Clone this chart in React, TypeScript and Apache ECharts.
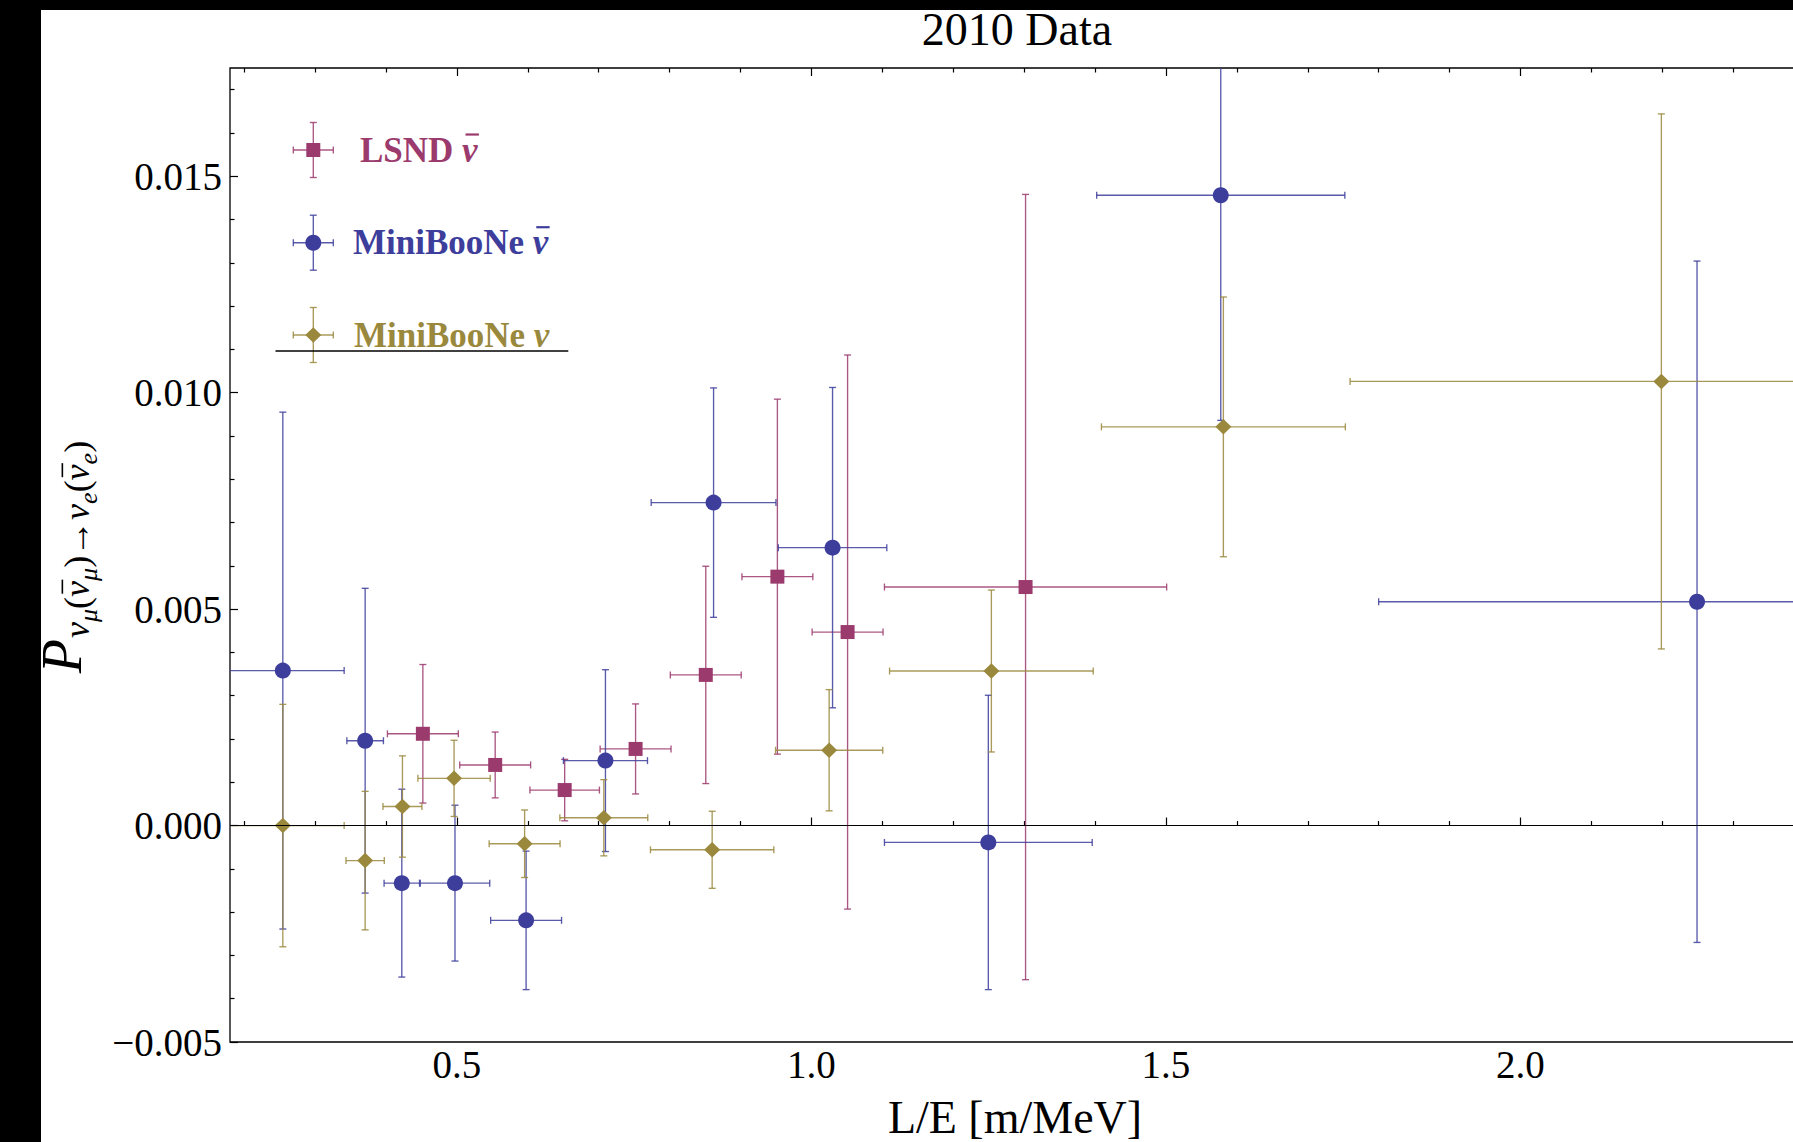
import React, { useEffect, useRef } from "react";
import * as echarts from "echarts";

const FAMILY = '"Liberation Serif"';
const FONT = '"Liberation Serif", "Times New Roman", "DejaVu Serif", serif';

// ---- LSND anti-neutrino ----
const lsndX = [0.452, 0.554, 0.652, 0.752, 0.851, 0.952, 1.051, 1.302];
const lsndY = [0.00212, 0.0014, 0.00082, 0.00177, 0.00348, 0.00575, 0.00447, 0.00551];
const lsndXErr = [0.05, 0.05, 0.049, 0.05, 0.05, 0.05, 0.05, 0.199];
const lsndYErr = [0.0016, 0.00076, 0.00071, 0.00104, 0.00251, 0.0041, 0.0064, 0.00907];

// ---- MiniBooNE anti-neutrino ----
const mbbX = [0.2545, 0.3706, 0.4223, 0.4973, 0.5976, 0.7095, 0.862, 1.0298, 1.2495, 1.5773, 2.249];
const mbbY = [0.00358, 0.00196, -0.00133, -0.00133, -0.00219, 0.0015, 0.00746, 0.00642, -0.00039, 0.01456, 0.00517];
const mbbXErr = [0.0865, 0.0258, 0.025, 0.049, 0.05, 0.0593, 0.088, 0.0765, 0.1465, 0.175, 0.449];
const mbbYErr = [0.00597, 0.00352, 0.00217, 0.0018, 0.0016, 0.0021, 0.00265, 0.0037, 0.0034, 0.0052, 0.00787];

// ---- MiniBooNE neutrino ----
const mbnX = [0.2545, 0.3706, 0.4232, 0.496, 0.5955, 0.7072, 0.86, 1.025, 1.2538, 1.581, 2.1987];
const mbnY = [0.0, -0.00081, 0.00044, 0.00109, -0.00042, 0.00018, -0.00056, 0.00174, 0.00357, 0.00921, 0.01026];
const mbnXErr = [0.0865, 0.027, 0.0275, 0.051, 0.05, 0.062, 0.087, 0.0756, 0.1436, 0.172, 0.439];
const mbnYErr = [0.0028, 0.0016, 0.00117, 0.00088, 0.00078, 0.00088, 0.00089, 0.0014, 0.00187, 0.003, 0.00618];

// ---- ticks ----
const xMajorTicks = [0.5, 1.0, 1.5, 2.0];
const xMinorTicks = [0.2, 0.3, 0.4, 0.6, 0.7, 0.8, 0.9, 1.1, 1.2, 1.3, 1.4, 1.6, 1.7, 1.8, 1.9, 2.1, 2.2, 2.3, 2.4];
const yMajorTicks = [-0.005, 0.0, 0.005, 0.01, 0.015];
const yMinorTicks = [
  -0.004, -0.003, -0.002, -0.001, 0.001, 0.002, 0.003, 0.004, 0.006, 0.007, 0.008, 0.009,
  0.011, 0.012, 0.013, 0.014, 0.016, 0.017,
];

const legendNames = ["LSND ", "MiniBooNe ", "MiniBooNe "];
const legendBarred = [true, true, false];

const X_MIN = 0.18;
const X_MAX = 2.5;
const Y_MIN = -0.005;
const Y_MAX = 0.0175;

const C_LSND = "#9b3a6d";
const C_MBB = "#3d3d9c";
const C_MBN = "#9a883d";

const BAR_W = 1.35;
const BAR_OPACITY = 0.85;
const CAP = 3.5;
const CENTRAL = 0.3375; // distance (em) from alphabetic baseline to the "central" baseline

let measureCtx: CanvasRenderingContext2D | null = null;
function measure(text: string, font: string): number {
  if (!measureCtx) measureCtx = document.createElement("canvas").getContext("2d");
  if (!measureCtx) return text.length * 10;
  measureCtx.font = font;
  return measureCtx.measureText(text).width;
}

function errorBars(name: string, xs: number[], ys: number[], xe: number[], ye: number[], color: string) {
  return {
    type: "custom",
    name,
    xAxisIndex: 0,
    yAxisIndex: 0,
    clip: true,
    silent: true,
    data: xs.map((x, i) => [x, ys[i], xe[i], ye[i]]),
    encode: { x: 0, y: 1 },
    renderItem: (params: any, api: any) => {
      const cs = params.coordSys;
      const gx0 = cs.x, gx1 = cs.x + cs.width, gy0 = cs.y, gy1 = cs.y + cs.height;
      const x = api.value(0), y = api.value(1), dx = api.value(2), dy = api.value(3);
      const c = api.coord([x, y]);
      const L = api.coord([x - dx, y])[0];
      const R = api.coord([x + dx, y])[0];
      const T = api.coord([x, y + dy])[1];
      const B = api.coord([x, y - dy])[1];
      const st = { stroke: color, lineWidth: BAR_W, opacity: BAR_OPACITY, fill: null };
      const l = Math.max(L, gx0), r = Math.min(R, gx1), t = Math.max(T, gy0), b = Math.min(B, gy1);
      const ch: any[] = [
        { type: "line", shape: { x1: l, y1: c[1], x2: r, y2: c[1] }, style: st },
        { type: "line", shape: { x1: c[0], y1: t, x2: c[0], y2: b }, style: st },
      ];
      if (L >= gx0) ch.push({ type: "line", shape: { x1: L, y1: c[1] - CAP, x2: L, y2: c[1] + CAP }, style: st });
      if (R <= gx1) ch.push({ type: "line", shape: { x1: R, y1: c[1] - CAP, x2: R, y2: c[1] + CAP }, style: st });
      if (T >= gy0) ch.push({ type: "line", shape: { x1: c[0] - CAP, y1: T, x2: c[0] + CAP, y2: T }, style: st });
      if (B <= gy1) ch.push({ type: "line", shape: { x1: c[0] - CAP, y1: B, x2: c[0] + CAP, y2: B }, style: st });
      return { type: "group", children: ch };
    },
  };
}

function points(name: string, xs: number[], ys: number[], symbol: string, size: any, color: string, extra: any = {}) {
  return {
    type: "scatter",
    name,
    xAxisIndex: 0,
    yAxisIndex: 0,
    symbol,
    symbolSize: size,
    itemStyle: { color, opacity: 1 },
    silent: true,
    data: xs.map((x, i) => [x, ys[i]]),
    ...extra,
  };
}

const tickStyle = { color: "#000", width: 1.2 };

function xAxisDef(position: string, values: number[], len: number, labels: boolean) {
  return {
    type: "value",
    gridIndex: 0,
    position,
    min: X_MIN,
    max: X_MAX,
    axisLine: { show: false },
    splitLine: { show: false },
    axisTick: { show: true, inside: true, length: len, customValues: values, lineStyle: tickStyle },
    axisLabel: labels
      ? {
          show: true,
          customValues: values,
          formatter: (v: number) => v.toFixed(1),
          fontFamily: FONT,
          fontSize: 39,
          color: "#000",
          margin: 3,
        }
      : { show: false },
  };
}

function yAxisDef(values: number[], len: number, labels: boolean) {
  return {
    type: "value",
    gridIndex: 0,
    position: "left",
    min: Y_MIN,
    max: Y_MAX,
    axisLine: { show: false },
    splitLine: { show: false },
    axisTick: { show: true, inside: true, length: len, customValues: values, lineStyle: tickStyle },
    axisLabel: labels
      ? {
          show: true,
          customValues: values,
          formatter: (v: number) => (v < -1e-9 ? "\u2212" : "") + Math.abs(v).toFixed(3),
          fontFamily: FONT,
          fontSize: 39,
          color: "#000",
          margin: 8,
        }
      : { show: false },
  };
}

const LEG_FS = 35;

function legendItem(cx: number, cy: number, color: string, marker: any, textX: number, name: string, barred: boolean) {
  const st = { stroke: color, lineWidth: BAR_W, opacity: BAR_OPACITY };
  const vy = 27.5, hx = 20;
  const nameW = measure(name, `bold ${LEG_FS}px ${FAMILY}`);
  const nuW = measure("\u03BD", `italic bold ${LEG_FS}px ${FAMILY}`);
  const baseline = cy + CENTRAL * LEG_FS;
  const nuX = textX + nameW;
  const out: any[] = [
    { type: "line", shape: { x1: cx - hx, y1: cy, x2: cx + hx, y2: cy }, style: st },
    { type: "line", shape: { x1: cx, y1: cy - vy, x2: cx, y2: cy + vy }, style: st },
    { type: "line", shape: { x1: cx - hx, y1: cy - CAP, x2: cx - hx, y2: cy + CAP }, style: st },
    { type: "line", shape: { x1: cx + hx, y1: cy - CAP, x2: cx + hx, y2: cy + CAP }, style: st },
    { type: "line", shape: { x1: cx - CAP, y1: cy - vy, x2: cx + CAP, y2: cy - vy }, style: st },
    { type: "line", shape: { x1: cx - CAP, y1: cy + vy, x2: cx + CAP, y2: cy + vy }, style: st },
    marker,
    {
      type: "text",
      x: textX,
      y: cy,
      style: { text: name, fontFamily: FONT, fontSize: LEG_FS, fontWeight: "bold", fill: color, align: "left", verticalAlign: "middle" },
    },
    {
      type: "text",
      x: nuX,
      y: cy,
      style: {
        text: "\u03BD",
        fontFamily: FONT,
        fontSize: LEG_FS,
        fontWeight: "bold",
        fontStyle: "italic",
        fill: color,
        align: "left",
        verticalAlign: "middle",
      },
    },
  ];
  if (barred) {
    const by = baseline - 0.78 * LEG_FS;
    out.push({
      type: "line",
      shape: { x1: nuX + 0.22 * nuW, y1: by, x2: nuX + 1.08 * nuW, y2: by },
      style: { stroke: color, lineWidth: 2.2 },
    });
  }
  return out;
}

function buildLegend() {
  const LX = 313.3;
  const rows = [150, 242.7, 335];
  const colors = [C_LSND, C_MBB, C_MBN];
  const textXs = [360, 353, 354];
  const markers = [
    { type: "rect", shape: { x: LX - 7, y: rows[0] - 7, width: 14, height: 14 }, style: { fill: C_LSND } },
    { type: "circle", shape: { cx: LX, cy: rows[1], r: 8 }, style: { fill: C_MBB } },
    {
      type: "polygon",
      shape: { points: [[LX, rows[2] - 7.8], [LX + 8, rows[2]], [LX, rows[2] + 7.8], [LX - 8, rows[2]]] },
      style: { fill: C_MBN },
    },
  ];
  const out: any[] = [];
  for (let i = 0; i < 3; i++) {
    out.push(...legendItem(LX, rows[i], colors[i], markers[i], textXs[i], legendNames[i], legendBarred[i]));
  }
  out.push({ type: "line", shape: { x1: 275.5, y1: 351, x2: 568.3, y2: 351 }, style: { stroke: "#000", lineWidth: 1.3 } });
  return out;
}

// y-axis label: P_{nu_mu (nubar_mu) -> nu_e (nubar_e)}, built glyph by glyph, rotated
function buildYLabel() {
  const P_FS = 56, S_FS = 36, SS_FS = 26;
  const S_SH = 8, SS_SH = 16;
  const toks: { t: string; fs: number; it: boolean; sh: number; bar?: boolean; gap?: number }[] = [
    { t: "P", fs: P_FS, it: true, sh: 0, gap: 1 },
    { t: "\u03BD", fs: S_FS, it: true, sh: S_SH },
    { t: "\u03BC", fs: SS_FS, it: true, sh: SS_SH },
    { t: "(", fs: S_FS, it: false, sh: S_SH },
    { t: "\u03BD", fs: S_FS, it: true, sh: S_SH, bar: true },
    { t: "\u03BC", fs: SS_FS, it: true, sh: SS_SH },
    { t: ")", fs: S_FS, it: false, sh: S_SH },
    { t: "\u2192", fs: S_FS, it: false, sh: S_SH },
    { t: "\u03BD", fs: S_FS, it: true, sh: S_SH },
    { t: "e", fs: SS_FS, it: true, sh: SS_SH },
    { t: "(", fs: S_FS, it: false, sh: S_SH },
    { t: "\u03BD", fs: S_FS, it: true, sh: S_SH, bar: true },
    { t: "e", fs: SS_FS, it: true, sh: SS_SH },
    { t: ")", fs: S_FS, it: false, sh: S_SH },
  ];
  const widths = toks.map((k) => measure(k.t, `${k.it ? "italic " : ""}${k.fs}px ${FAMILY}`) + (k.gap || 0));
  const total = widths.reduce((a, b) => a + b, 0);
  const BX = 81; // screen x of P's baseline
  const children: any[] = [];
  let acc = -total / 2;
  toks.forEach((k, i) => {
    const base = BX + k.sh;
    children.push({
      type: "text",
      x: acc,
      y: base - CENTRAL * k.fs,
      style: {
        text: k.t,
        fontFamily: FONT,
        fontSize: k.fs,
        fontStyle: k.it ? "italic" : "normal",
        fill: "#000",
        align: "left",
        verticalAlign: "middle",
      },
    });
    if (k.bar) {
      const by = base - 0.74 * k.fs;
      children.push({
        type: "line",
        shape: { x1: acc + 0.2 * widths[i], y1: by, x2: acc + 1.08 * widths[i], y2: by },
        style: { stroke: "#000", lineWidth: 1.6 },
      });
    }
    acc += widths[i];
  });
  return { type: "group", x: 0, y: 557, rotation: Math.PI / 2, children };
}

function buildOption(): any {
  return {
    animation: false,
    backgroundColor: "#fff",
    grid: {
      left: 230,
      top: 68,
      width: 1645,
      height: 974,
      show: true,
      borderColor: "#000",
      borderWidth: 1.3,
      backgroundColor: "transparent",
      containLabel: false,
      outerBoundsMode: "none",
    },
    xAxis: [
      xAxisDef("bottom", xMajorTicks, 8, true),
      xAxisDef("bottom", xMinorTicks, 4.5, false),
      xAxisDef("top", xMajorTicks, 8, false),
      xAxisDef("top", xMinorTicks, 4.5, false),
    ],
    yAxis: [yAxisDef(yMajorTicks, 8, true), yAxisDef(yMinorTicks, 4.5, false)],
    series: [
      errorBars("LSND bars", lsndX, lsndY, lsndXErr, lsndYErr, C_LSND),
      points("LSND \u03BD\u0304", lsndX, lsndY, "rect", 14, C_LSND),
      errorBars("MiniBooNe anti bars", mbbX, mbbY, mbbXErr, mbbYErr, C_MBB),
      points("MiniBooNe \u03BD\u0304", mbbX, mbbY, "circle", 16, C_MBB),
      errorBars("MiniBooNe nu bars", mbnX, mbnY, mbnXErr, mbnYErr, C_MBN),
      points("MiniBooNe \u03BD", mbnX, mbnY, "diamond", [16, 15.5], C_MBN, {
        markLine: {
          silent: true,
          symbol: ["none", "none"],
          label: { show: false },
          lineStyle: { color: "#000", width: 1.2, type: "solid", opacity: 1 },
          data: [{ yAxis: 0 }],
        },
      }),
    ],
    graphic: [
      ...buildLegend(),
      buildYLabel(),
      {
        type: "text",
        x: 1017,
        y: 29,
        style: { text: "2010 Data", fontFamily: FONT, fontSize: 46, fill: "#000", align: "center", verticalAlign: "middle" },
      },
      {
        type: "text",
        x: 1015,
        y: 1117,
        style: { text: "L/E [m/MeV]", fontFamily: FONT, fontSize: 46, fill: "#000", align: "center", verticalAlign: "middle" },
      },
      { type: "rect", z: 100, shape: { x: 0, y: 0, width: 41, height: 1142 }, style: { fill: "#000" } },
      { type: "rect", z: 100, shape: { x: 0, y: 0, width: 1900, height: 10 }, style: { fill: "#000" } },
    ],
  };
}

export default function App() {
  const ref = useRef<HTMLDivElement>(null);
  useEffect(() => {
    const chart = echarts.init(ref.current as HTMLDivElement, undefined, { renderer: "svg" });
    chart.setOption(buildOption());
    return () => chart.dispose();
  }, []);
  return (
    <div style={{ position: "fixed", left: 0, top: 0, width: 1793, height: 1142, overflow: "hidden", background: "#fff" }}>
      <div ref={ref} style={{ width: 1900, height: 1142 }} />
    </div>
  );
}
